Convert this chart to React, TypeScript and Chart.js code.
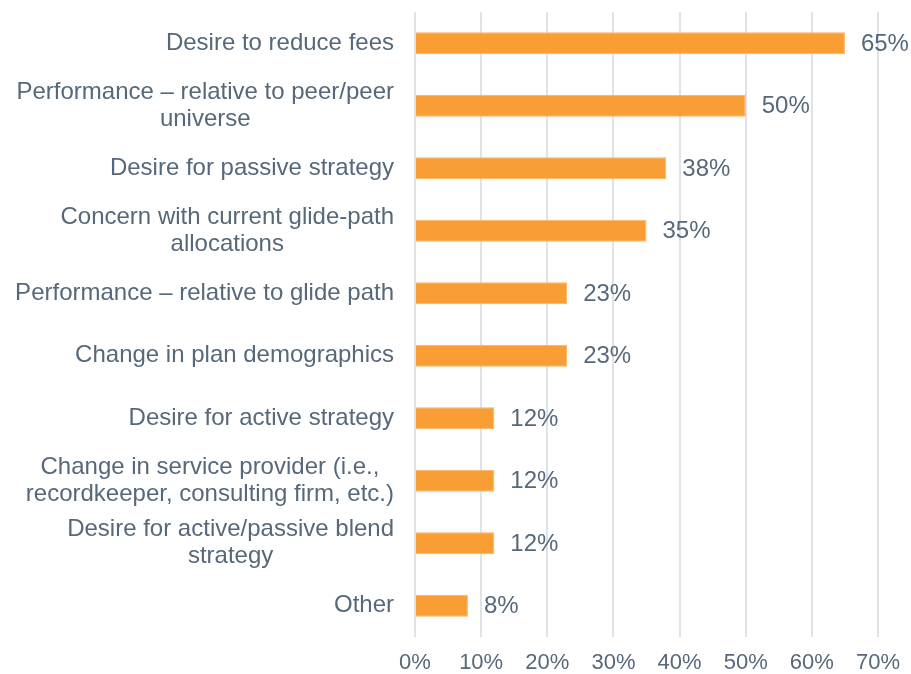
import React, { useEffect, useRef } from "react";
import { Chart, registerables } from "chart.js";

Chart.register(...registerables);

const categories: string[][] = [
  ["Desire to reduce fees"],
  ["Performance – relative to peer/peer", "universe"],
  ["Desire for passive strategy"],
  ["Concern with current glide-path", "allocations"],
  ["Performance – relative to glide path"],
  ["Change in plan demographics"],
  ["Desire for active strategy"],
  ["Change in service provider (i.e.,", "recordkeeper, consulting firm, etc.)"],
  ["Desire for active/passive blend", "strategy"],
  ["Other"],
];
const values: number[] = [65, 50, 38, 35, 23, 23, 12, 12, 12, 8];
const xTicks: number[] = [0, 10, 20, 30, 40, 50, 60, 70];

const TEXT = "#56687A";
const FONT = '"Liberation Sans", Arial, sans-serif';

const labelPlugin = {
  id: "customLabels",
  afterDraw(chart: any) {
    const ctx = chart.ctx;
    const y = chart.scales.y;
    const area = chart.chartArea;
    ctx.save();
    ctx.font = `24px ${FONT}`;
    ctx.fillStyle = TEXT;
    ctx.textBaseline = "middle";
    const lh = 27;
    categories.forEach((lines, i) => {
      const cy = y.getPixelForValue(i);
      const maxW = Math.max(...lines.map((l) => ctx.measureText(l).width));
      const right = area.left - 21;
      const cx = right - maxW / 2;
      ctx.textAlign = "center";
      const top = cy - ((lines.length - 1) * lh) / 2;
      lines.forEach((l, j) => ctx.fillText(l, cx, top + j * lh));
    });
    const meta = chart.getDatasetMeta(0);
    ctx.textAlign = "left";
    meta.data.forEach((bar: any, i: number) => {
      ctx.fillText(values[i] + "%", bar.x + 16, bar.y + 1);
    });
    ctx.restore();
  },
};

export default function App() {
  const ref = useRef<HTMLCanvasElement>(null);
  useEffect(() => {
    if (!ref.current) return;
    const chart = new Chart(ref.current, {
      type: "bar",
      data: {
        labels: categories.map((c) => c.join(" ")),
        datasets: [
          {
            data: values,
            backgroundColor: "#F99D35",
            borderColor: "#FBB262",
            borderWidth: 1,
            barPercentage: 0.7,
            categoryPercentage: 0.5,
          },
        ],
      },
      options: {
        indexAxis: "y",
        animation: false,
        responsive: false,
        maintainAspectRatio: false,
        layout: { padding: { left: 415, right: 33, top: 12, bottom: 0 } },
        plugins: { legend: { display: false }, tooltip: { enabled: false } },
        scales: {
          x: {
            min: 0,
            max: 70,
            afterBuildTicks: (axis: any) => {
              axis.ticks = xTicks.map((v) => ({ value: v }));
            },
            afterFit: (axis: any) => {
              axis.height = 37;
              axis.paddingRight = 0;
              axis.paddingLeft = 0;
            },
            grid: { color: "#DFE3E8", lineWidth: 2, drawTicks: false },
            border: { display: false },
            ticks: {
              color: TEXT,
              font: { family: FONT, size: 22 },
              padding: 13,
              maxRotation: 0,
              callback: (v: any) => v + "%",
            },
          },
          y: {
            display: false,
          },
        },
      },
      plugins: [labelPlugin],
    });
    return () => chart.destroy();
  }, []);
  return (
    <div style={{ position: "fixed", left: 0, top: 0, width: 911, height: 674, background: "#fff" }}>
      <canvas ref={ref} width={911} height={674} style={{ width: 911, height: 674 }} />
    </div>
  );
}
